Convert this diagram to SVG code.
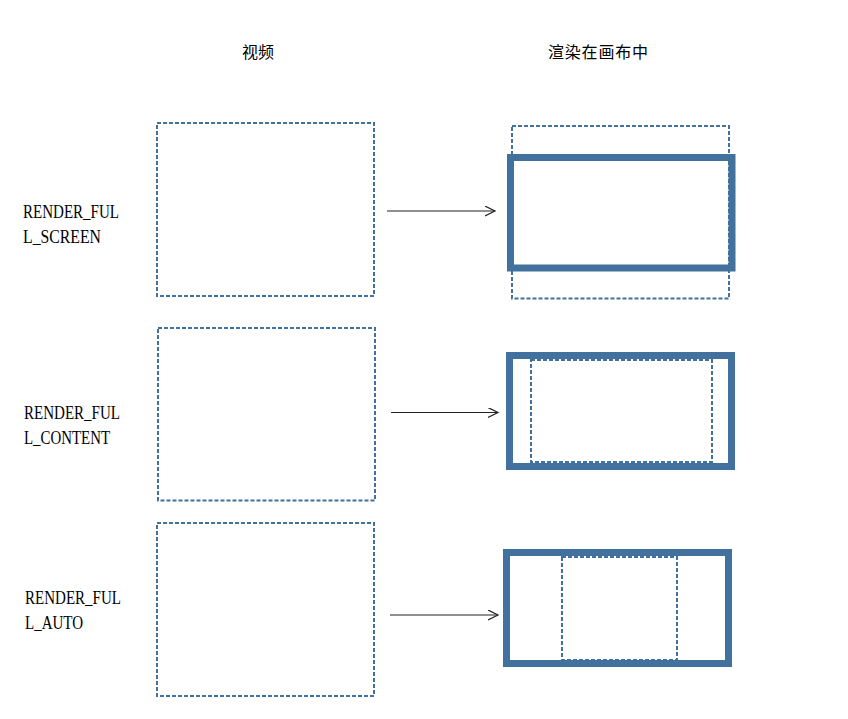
<svg xmlns="http://www.w3.org/2000/svg" width="848" height="719" viewBox="0 0 848 719">
<style>
.dash{fill:none;stroke:#41719c;stroke-width:2;stroke-dasharray:4,2}
.thick{fill:none;stroke:#41719c;stroke-width:7}
.lbl{font-family:"Liberation Serif","Noto Sans CJK SC",serif;font-size:18px;fill:#000}
.hdr{font-family:"Noto Sans CJK SC",sans-serif;font-size:16px;fill:#000}
.arr{stroke:#222;stroke-width:1.2;fill:none}
</style>
<defs>
<marker id="ah" markerWidth="12" markerHeight="12" refX="10" refY="5" orient="auto" markerUnits="userSpaceOnUse">
<path d="M0,0 L10,5 L0,10" fill="none" stroke="#222" stroke-width="1.2"/>
</marker>
</defs>
<rect width="848" height="719" fill="#fff"/>
<g id="headers">
<text class="hdr" x="258" y="58" text-anchor="middle">视频</text>
<text class="hdr" x="598" y="58" text-anchor="middle" textLength="100">渲染在画布中</text>
</g>
<g id="row1">
<text class="lbl" x="23" y="218" textLength="96" lengthAdjust="spacingAndGlyphs">RENDER_FUL</text>
<text class="lbl" x="23" y="243" textLength="78" lengthAdjust="spacingAndGlyphs">L_SCREEN</text>
<rect id="video1" class="dash" x="157" y="123" width="217" height="173"/>
<g id="canvas1">
<rect class="dash" x="512" y="126" width="217" height="172.5"/>
<rect class="thick" x="510.5" y="157.5" width="221.5" height="110.5"/>
</g>
</g>
<g id="row2">
<text class="lbl" x="24" y="419" textLength="96" lengthAdjust="spacingAndGlyphs">RENDER_FUL</text>
<text class="lbl" x="24" y="444" textLength="86" lengthAdjust="spacingAndGlyphs">L_CONTENT</text>
<rect id="video2" class="dash" x="158" y="328" width="217" height="172.5"/>
<g id="canvas2">
<rect class="thick" x="509.5" y="355.5" width="222" height="111"/>
<rect class="dash" x="531" y="360" width="181" height="102"/>
</g>
</g>
<g id="row3">
<text class="lbl" x="25" y="604" textLength="96" lengthAdjust="spacingAndGlyphs">RENDER_FUL</text>
<text class="lbl" x="25" y="629" textLength="58" lengthAdjust="spacingAndGlyphs">L_AUTO</text>
<rect id="video3" class="dash" x="157" y="523" width="217" height="173"/>
<g id="canvas3">
<rect class="thick" x="506.5" y="552.5" width="222" height="111"/>
<rect class="dash" x="562" y="557" width="115" height="103"/>
</g>
</g>
<g id="connectors">
<line class="arr" x1="387" y1="211" x2="495" y2="211" marker-end="url(#ah)"/>
<line class="arr" x1="391" y1="412.5" x2="498" y2="412.5" marker-end="url(#ah)"/>
<line class="arr" x1="390" y1="615" x2="498" y2="615" marker-end="url(#ah)"/>
</g>
</svg>
